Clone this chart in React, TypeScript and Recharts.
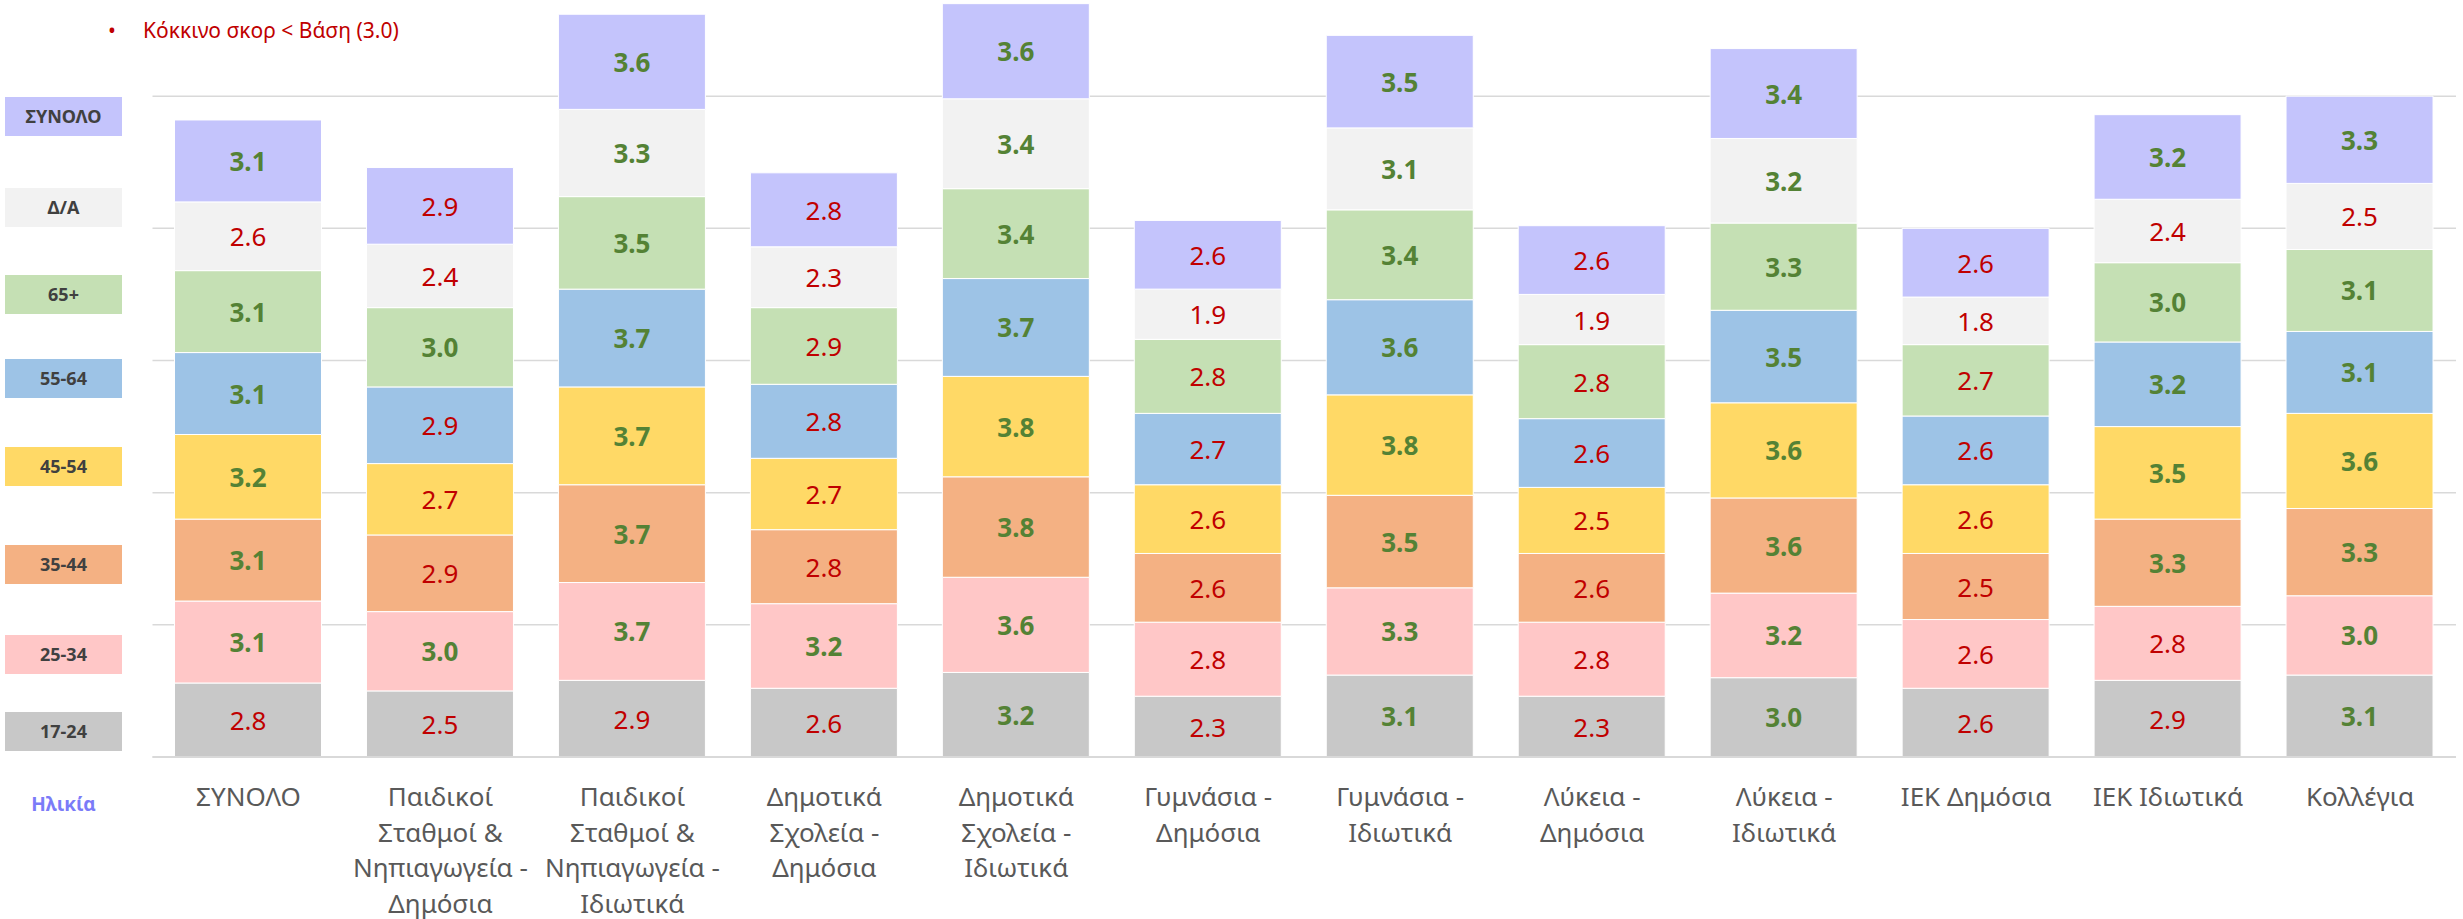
import React from "react";
import { BarChart, Bar, XAxis, YAxis, CartesianGrid, LabelList } from "recharts";

// ---------- DATA ----------
const categories = [
  "ΣΥΝΟΛΟ",
  "Παιδικοί Σταθμοί & Νηπιαγωγεία - Δημόσια",
  "Παιδικοί Σταθμοί & Νηπιαγωγεία - Ιδιωτικά",
  "Δημοτικά Σχολεία - Δημόσια",
  "Δημοτικά Σχολεία - Ιδιωτικά",
  "Γυμνάσια - Δημόσια",
  "Γυμνάσια - Ιδιωτικά",
  "Λύκεια - Δημόσια",
  "Λύκεια - Ιδιωτικά",
  "ΙΕΚ Δημόσια",
  "ΙΕΚ Ιδιωτικά",
  "Κολλέγια",
];

const tickLines = [
  ["ΣΥΝΟΛΟ"],
  ["Παιδικοί", "Σταθμοί &", "Νηπιαγωγεία -", "Δημόσια"],
  ["Παιδικοί", "Σταθμοί &", "Νηπιαγωγεία -", "Ιδιωτικά"],
  ["Δημοτικά", "Σχολεία -", "Δημόσια"],
  ["Δημοτικά", "Σχολεία -", "Ιδιωτικά"],
  ["Γυμνάσια -", "Δημόσια"],
  ["Γυμνάσια -", "Ιδιωτικά"],
  ["Λύκεια -", "Δημόσια"],
  ["Λύκεια -", "Ιδιωτικά"],
  ["ΙΕΚ Δημόσια"],
  ["ΙΕΚ Ιδιωτικά"],
  ["Κολλέγια"],
];

const age1724 = [2.8, 2.5, 2.9, 2.6, 3.2, 2.3, 3.1, 2.3, 3.0, 2.6, 2.9, 3.1];
const age2534 = [3.1, 3.0, 3.7, 3.2, 3.6, 2.8, 3.3, 2.8, 3.2, 2.6, 2.8, 3.0];
const age3544 = [3.1, 2.9, 3.7, 2.8, 3.8, 2.6, 3.5, 2.6, 3.6, 2.5, 3.3, 3.3];
const age4554 = [3.2, 2.7, 3.7, 2.7, 3.8, 2.6, 3.8, 2.5, 3.6, 2.6, 3.5, 3.6];
const age5564 = [3.1, 2.9, 3.7, 2.8, 3.7, 2.7, 3.6, 2.6, 3.5, 2.6, 3.2, 3.1];
const age65 = [3.1, 3.0, 3.5, 2.9, 3.4, 2.8, 3.4, 2.8, 3.3, 2.7, 3.0, 3.1];
const ageNA = [2.6, 2.4, 3.3, 2.3, 3.4, 1.9, 3.1, 1.9, 3.2, 1.8, 2.4, 2.5];
const ageTotal = [3.1, 2.9, 3.6, 2.8, 3.6, 2.6, 3.5, 2.6, 3.4, 2.6, 3.2, 3.3];

const seriesNames = ["17-24", "25-34", "35-44", "45-54", "55-64", "65+", "Δ/Α", "ΣΥΝΟΛΟ"];
const seriesValues = [age1724, age2534, age3544, age4554, age5564, age65, ageNA, ageTotal];
const yTicks = [0, 5, 10, 15, 20, 25, 30];
const baseScore = 3.0;
const noteText = "Κόκκινο σκορ < Βάση (3.0)";
const ageTitle = "Ηλικία";

// ---------- STYLE ----------
const seriesColors = ["#C8C8C8", "#FFC7C7", "#F4B183", "#FFD966", "#9DC3E6", "#C5E0B4", "#F2F2F2", "#C4C4FC"];
const legendTops = [712, 635, 545, 447, 359, 275, 188, 97]; // same order as seriesNames
const FONT = "'Noto Sans', 'Open Sans', sans-serif";
const GREEN = "#548235";
const RED = "#C00000";

const keys = seriesNames.map((_, i) => `s${i}`);
const data = categories.map((c, ci) => {
  const row: any = { name: c };
  seriesValues.forEach((arr, si) => {
    row[keys[si]] = arr[ci];
  });
  return row;
});

const SegLabel = (props: any) => {
  const { x, y, width, height, value } = props;
  if (value == null) return null;
  const good = Number(value) >= baseScore - 1e-9;
  return (
    <text
      x={Number(x) + Number(width) / 2}
      y={Number(y) + Number(height) / 2}
      textAnchor="middle"
      dominantBaseline="central"
      fontFamily={FONT}
      fontSize={26}
      fontWeight={good ? 700 : 400}
      fill={good ? GREEN : RED}
    >
      {Number(value).toFixed(1)}
    </text>
  );
};

const CatTick = (props: any) => {
  const { x, y, payload } = props;
  let idx = props.index;
  if (idx == null) idx = categories.indexOf(payload.value);
  const lines = tickLines[idx] || [String(payload.value)];
  return (
    <g>
      {lines.map((ln, i) => (
        <text
          key={i}
          x={x}
          y={Number(y) + 39 + i * 35.5}
          textAnchor="middle"
          dominantBaseline="central"
          fontFamily={FONT}
          fontSize={26}
          fill="#595959"
        >
          {ln}
        </text>
      ))}
    </g>
  );
};

export default function App() {
  return (
    <div
      style={{
        position: "absolute",
        left: 0,
        top: 0,
        width: 2463,
        height: 919,
        overflow: "hidden",
        background: "#ffffff",
        fontFamily: FONT,
      }}
    >
      <div style={{ position: "absolute", left: 0, top: -36 }}>
        <BarChart
          width={2463}
          height={963}
          data={data}
          margin={{ top: 0, right: 7, bottom: 140, left: 152.5 }}
          barSize={147}
        >
          <CartesianGrid vertical={false} stroke="#D9D9D9" strokeWidth={1.5} />
          <YAxis hide domain={[0, 30]} ticks={yTicks} type="number" />
          <XAxis
            dataKey="name"
            interval={0}
            height={30}
            tickLine={false}
            tickSize={0}
            tickMargin={0}
            axisLine={{ stroke: "#D9D9D9", strokeWidth: 2 }}
            tick={<CatTick />}
          />
          {keys.map((k, i) => (
            <Bar
              key={k}
              dataKey={k}
              name={seriesNames[i]}
              stackId="a"
              fill={seriesColors[i]}
              stroke="#ffffff"
              strokeWidth={1}
              isAnimationActive={false}
            >
              <LabelList dataKey={k} content={<SegLabel />} />
            </Bar>
          ))}
        </BarChart>
      </div>

      {/* note */}
      <div
        style={{
          position: "absolute",
          left: 108,
          top: 16,
          color: RED,
          fontSize: 21,
          lineHeight: "28px",
          whiteSpace: "nowrap",
        }}
      >
        <span style={{ display: "inline-block", width: 35 }}>•</span>
        {noteText}
      </div>

      {/* age legend */}
      {seriesNames.map((n, i) => (
        <div
          key={n}
          style={{
            position: "absolute",
            left: 5,
            top: legendTops[i],
            width: 117,
            height: 39,
            background: seriesColors[i],
            color: "#404040",
            fontWeight: 700,
            fontSize: 18,
            lineHeight: "39px",
            textAlign: "center",
          }}
        >
          {n}
        </div>
      ))}
      <div
        style={{
          position: "absolute",
          left: 5,
          top: 788,
          width: 117,
          height: 32,
          color: "#7B7BF8",
          fontWeight: 700,
          fontSize: 19,
          lineHeight: "32px",
          textAlign: "center",
        }}
      >
        {ageTitle}
      </div>
    </div>
  );
}
